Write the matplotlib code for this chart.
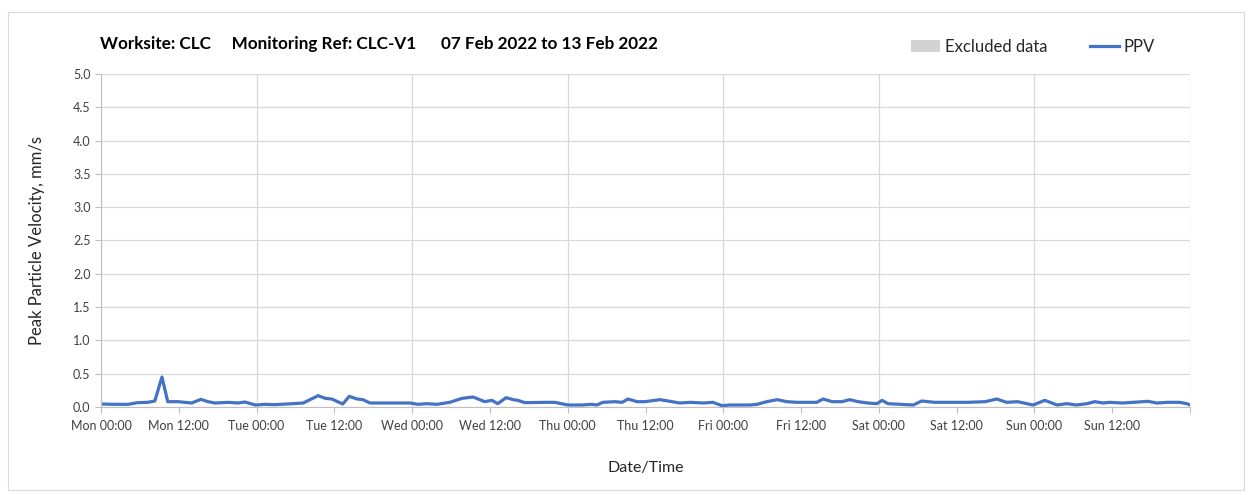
import numpy as np
import pandas as pd
import matplotlib
matplotlib.use("Agg")
import matplotlib.pyplot as plt
import matplotlib.dates as mdates
from matplotlib.patches import Patch, Rectangle
from matplotlib.lines import Line2D
from matplotlib.ticker import FuncFormatter, MultipleLocator

plt.rcParams['font.family'] = ['Lato', 'DejaVu Sans']

## data: hours since Mon 07 Feb 2022 00:00 and PPV in mm/s
hours = [0.0, 2.2, 4.2, 5.6, 7.2, 8.3, 9.4, 10.3, 11.9, 14.0, 15.4, 16.5, 17.6,
         19.6, 21.1, 22.2, 23.8, 25.3, 26.8, 29.6, 31.2, 33.5, 34.6, 35.6, 37.3,
         38.3, 39.5, 40.4, 41.5, 44.6, 47.7, 48.9, 50.3, 51.8, 53.8, 55.7, 57.4,
         59.2, 60.3, 61.2, 62.5, 63.6, 64.3, 65.4, 68.5, 70.0, 72.0, 74.2, 75.7,
         76.5, 77.4, 79.3, 80.4, 81.3, 82.7, 83.9, 86.2, 87.5, 89.3, 90.9, 92.9,
         94.4, 95.8, 97.0, 100.1, 101.2, 102.7, 104.3, 105.8, 107.4, 110.4, 111.4,
         112.8, 114.3, 115.5, 116.8, 118.3, 119.7, 120.5, 121.4, 125.3, 126.6,
         128.6, 131.7, 133.7, 136.4, 138.2, 139.7, 141.4, 143.8, 145.6, 147.5,
         149.0, 150.5, 152.1, 153.3, 154.6, 155.6, 157.6, 159.2, 161.5, 162.9,
         164.4, 166.4, 167.5, 168.0]
ppv = [0.045, 0.04, 0.04, 0.065, 0.07, 0.09, 0.45, 0.08, 0.08, 0.06, 0.115, 0.08, 0.06,
       0.07, 0.06, 0.075, 0.03, 0.04, 0.035, 0.05, 0.06, 0.17, 0.13, 0.12, 0.045,
       0.16, 0.12, 0.11, 0.06, 0.06, 0.06, 0.04, 0.05, 0.04, 0.07, 0.13, 0.15,
       0.08, 0.1, 0.05, 0.14, 0.11, 0.1, 0.065, 0.07, 0.07, 0.03, 0.03, 0.04,
       0.03, 0.07, 0.08, 0.07, 0.12, 0.08, 0.08, 0.11, 0.09, 0.06, 0.07, 0.06,
       0.07, 0.02, 0.03, 0.03, 0.04, 0.08, 0.11, 0.08, 0.07, 0.07, 0.12,
       0.08, 0.08, 0.11, 0.08, 0.06, 0.05, 0.1, 0.05, 0.03, 0.09,
       0.07, 0.07, 0.07, 0.08, 0.12, 0.07, 0.08, 0.03, 0.1, 0.03,
       0.05, 0.03, 0.05, 0.08, 0.06, 0.07, 0.06, 0.07, 0.085, 0.06,
       0.07, 0.07, 0.05, 0.03]

start = pd.Timestamp("2022-02-07 00:00")
end = pd.Timestamp("2022-02-14 00:00")
times = start + pd.to_timedelta(hours, unit="h")

title = "Worksite: CLC     Monitoring Ref: CLC-V1      07 Feb 2022 to 13 Feb 2022"
blue = "#4472C4"
grid_c = "#d9d9d9"
txt_c = "#404040"

fig = plt.figure(figsize=(12.52, 4.95), dpi=100)
fig.patches.append(Rectangle((8/1252, 5/495), 1236/1252, 478/495, transform=fig.transFigure,
                             fill=False, edgecolor="#d9d9d9", linewidth=0.8))
ax = fig.add_axes([101/1252, 1 - 407/495, 1089/1252, 333/495])

ax.plot(times, ppv, color=blue, linewidth=2.3, solid_joinstyle="round")

ax.set_ylim(0, 5)
ax.yaxis.set_major_locator(MultipleLocator(0.5))
ax.yaxis.set_major_formatter(FuncFormatter(lambda v, p: "%.1f" % v))
ax.set_xlim(start, end)

end_num = mdates.date2num(end)
ax.xaxis.set_major_locator(mdates.DayLocator())
ax.xaxis.set_minor_locator(mdates.HourLocator(byhour=[12]))
ax.xaxis.set_major_formatter(FuncFormatter(
    lambda x, p: "" if x >= end_num - 1e-6 else mdates.num2date(x).strftime("%a %H:%M")))
ax.xaxis.set_minor_formatter(mdates.DateFormatter("%a %H:%M"))

ax.grid(True, which="major", color=grid_c, linewidth=0.9)
ax.set_axisbelow(True)
for s in ["top", "right"]:
    ax.spines[s].set_visible(False)
for s in ["left", "bottom"]:
    ax.spines[s].set_color("#bfbfbf")
ax.tick_params(axis="both", which="both", colors="#bfbfbf", labelcolor=txt_c, labelsize=9,
               length=4, width=0.8)
ax.tick_params(axis="x", which="both", pad=5)

ax.set_ylabel("Peak Particle Velocity, mm/s", fontsize=12, color="#262626", labelpad=20)
ax.set_xlabel("Date/Time", fontsize=11.5, color="#262626", labelpad=21)

fig.text(100/1252, 1 - 44/495, title, fontsize=12.3, fontweight="bold", va="center", ha="left")

handles = [Patch(facecolor="#d3d3d3", edgecolor="none", label="Excluded data"),
           Line2D([0], [0], color=blue, linewidth=2.3, label="PPV")]
fig.legend(handles=handles, loc="center right", bbox_to_anchor=(1170/1252, 1 - 47/495), ncol=2,
           frameon=False, fontsize=12, handlelength=1.7, handletextpad=0.3, columnspacing=2.6,
           labelcolor="#262626")

fig.savefig("out.png", dpi=100)
